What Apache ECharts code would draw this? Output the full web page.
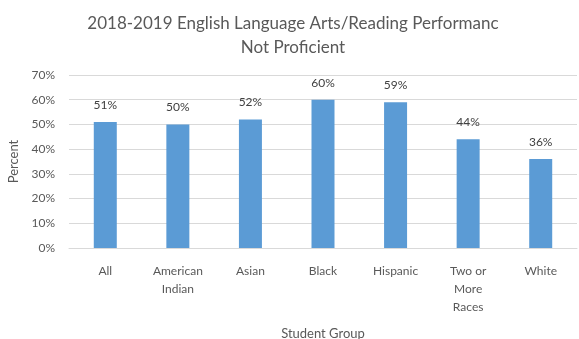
<!DOCTYPE html>
<html>
<head>
<meta charset="utf-8">
<script src="https://cdn.jsdelivr.net/npm/echarts@6/dist/echarts.min.js"></script>
<style>
html,body{margin:0;padding:0;background:#fff;}
#chart{width:579px;height:339px;}
</style>
</head>
<body>
<div id="chart"></div>
<script>
// Student groups on the x axis
const categories = ['All', 'American\nIndian', 'Asian', 'Black', 'Hispanic', 'Two or\nMore\nRaces', 'White'];
// Share of students not proficient, percent
const notProficient = [51, 50, 52, 60, 59, 44, 36];
// Y axis range and step, percent
const yMin = 0, yMax = 70, yStep = 10;

const font = 'Lato, "Open Sans", sans-serif';
const chart = echarts.init(document.getElementById('chart'));
chart.setOption({
  animation: false,
  title: {
    text: '2018-2019 English Language Arts/Reading Performanc\nNot Proficient',
    left: 288, top: 7, textAlign: 'center',
    textStyle: { fontFamily: font, fontSize: 17, fontWeight: 'normal', color: '#595959', lineHeight: 24 }
  },
  grid: { left: 69, right: 2, top: 75, bottom: 91, containLabel: false, outerBoundsMode: 'none' },
  xAxis: {
    type: 'category', data: categories,
    name: 'Student Group', nameLocation: 'middle', nameGap: 79,
    nameTextStyle: { fontFamily: font, fontSize: 13, color: '#595959' },
    axisLine: { lineStyle: { color: '#d9d9d9' } },
    axisTick: { show: false },
    axisLabel: { fontFamily: font, fontSize: 12, color: '#595959', margin: 14, lineHeight: 18, interval: 0 }
  },
  yAxis: {
    type: 'value', min: yMin, max: yMax, interval: yStep,
    name: 'Percent', nameLocation: 'middle', nameGap: 47, nameRotate: 90,
    nameTextStyle: { fontFamily: font, fontSize: 13, color: '#595959' },
    axisLine: { show: false }, axisTick: { show: false },
    splitLine: { lineStyle: { color: '#d9d9d9' } },
    axisLabel: { fontFamily: font, fontSize: 12, color: '#595959', margin: 14, formatter: v => v + '%' }
  },
  series: [{
    type: 'bar', data: notProficient, barWidth: 23,
    itemStyle: { color: '#5b9bd5' },
    label: { show: true, position: 'top', distance: 11, fontFamily: font, fontSize: 12, color: '#404040', formatter: p => p.value + '%' }
  }]
});
</script>
</body>
</html>
